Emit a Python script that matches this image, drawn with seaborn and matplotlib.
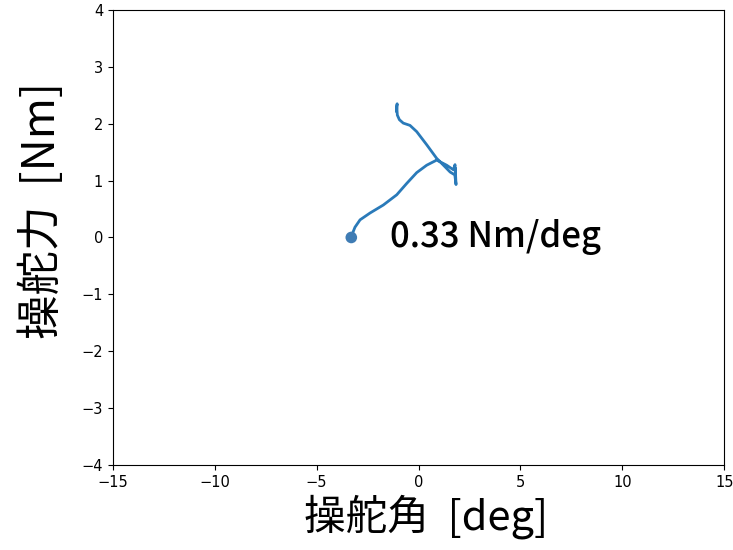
import matplotlib
matplotlib.use("Agg")
import matplotlib.pyplot as plt
import seaborn as sns
import pandas as pd

# Data
angle_deg = [-3.3, -3.22, -3.12, -2.87, -2.38, -1.73, -1.07, -0.58, -0.09, 0.40, 0.89,
             1.38, 1.71, 1.79, 1.82, 1.80, 1.84, 1.78, 1.55, 1.06, 0.89,
             0.40, -0.09, -0.42, -0.75, -0.94, -1.04, -1.07, -1.05, -1.08]
force_nm = [0.0, 0.09, 0.18, 0.31, 0.43, 0.57, 0.75, 0.95, 1.14, 1.27, 1.36,
            1.27, 1.19, 1.28, 1.05, 1.22, 0.93, 1.10, 1.15, 1.33, 1.39,
            1.63, 1.86, 1.97, 2.01, 2.07, 2.15, 2.30, 2.35, 2.22]
start_angle = [-3.3]
start_force = [0.0]
slope_label = "0.33 Nm/deg"
xlabel = "操舵角  [deg]"
ylabel = "操舵力  [Nm]"
xticks = [-15, -10, -5, 0, 5, 10, 15]
yticks = [-4, -3, -2, -1, 0, 1, 2, 3, 4]

jp = ['Noto Sans CJK JP', 'DejaVu Sans']

df = pd.DataFrame({"angle": angle_deg, "force": force_nm})
dot = pd.DataFrame({"angle": start_angle, "force": start_force})

fig, ax = plt.subplots(figsize=(7.33, 5.5), dpi=100)
fig.subplots_adjust(left=0.154, right=0.988, top=0.982, bottom=0.1545)

sns.lineplot(data=df, x="angle", y="force", sort=False, estimator=None,
             color="#2a7ab9", linewidth=2, ax=ax)
sns.scatterplot(data=dot, x="angle", y="force", color="#3f7cb4", s=70,
                edgecolor="none", ax=ax, zorder=3)

ax.text(-1.4, 0.0, slope_label, fontsize=25, va="center", ha="left",
        family=jp, weight="medium", color="black")

ax.set_xlim(-15, 15)
ax.set_ylim(-4, 4)
ax.set_xticks(xticks)
ax.set_yticks(yticks)
ax.tick_params(labelsize=10.5)
ax.set_xlabel(xlabel, fontsize=30, family=jp, labelpad=3)
ax.set_ylabel(ylabel, fontsize=32, family=jp, labelpad=12)
ax.xaxis.label.set_x(0.512)
ax.yaxis.label.set_y(0.56)

fig.savefig("out.png", dpi=100)
